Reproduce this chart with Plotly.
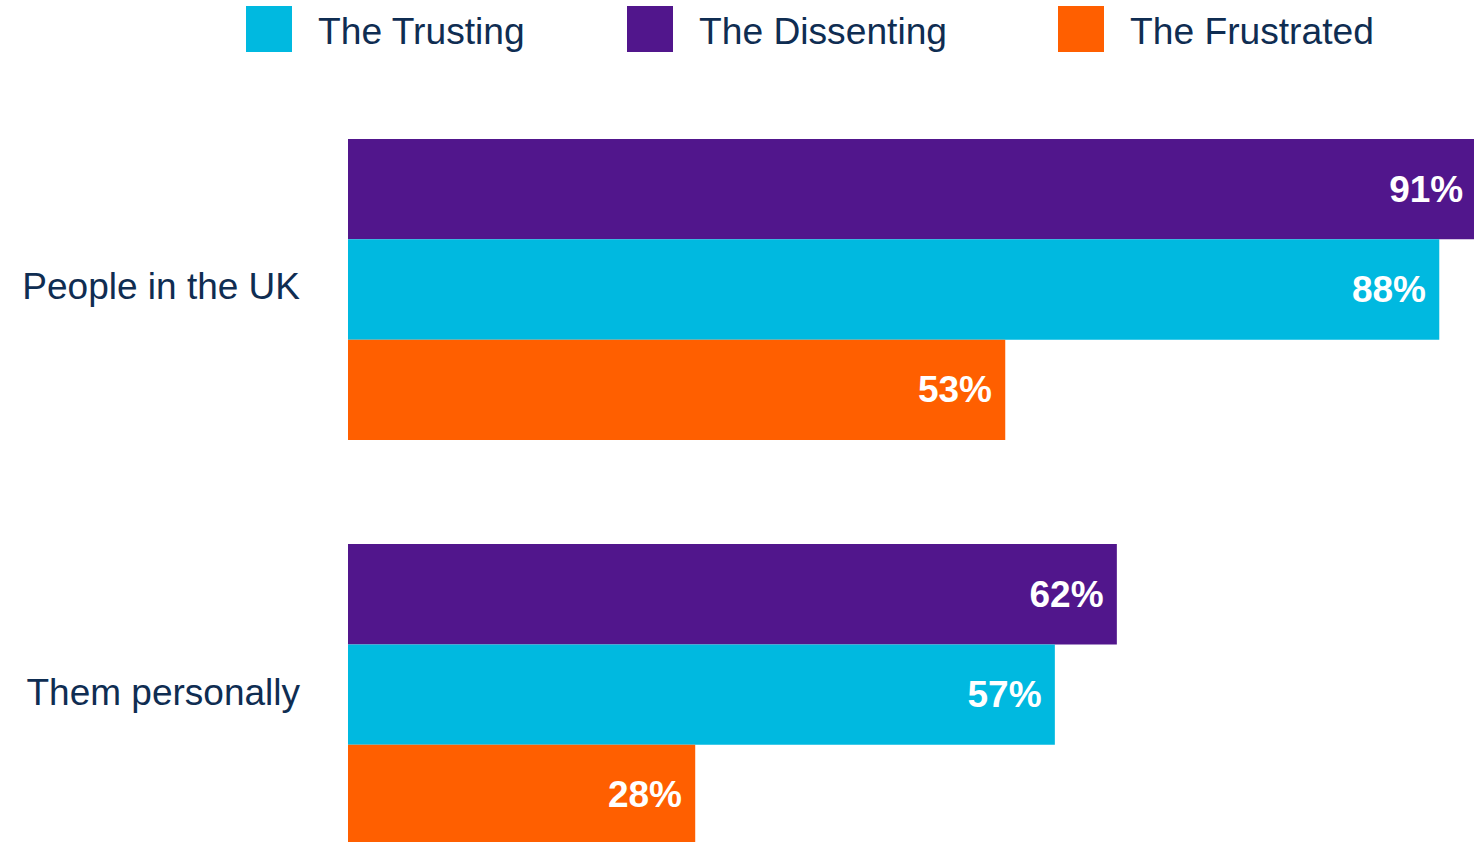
import plotly.graph_objects as go

# Survey results: share answering, by segment
categories = ["People in the UK", "Them personally"]
series_names = ["The Dissenting", "The Trusting", "The Frustrated"]
dissenting = [91, 62]
trusting = [88, 57]
frustrated = [53, 28]

colors = {
    "The Trusting": "#00B9E0",
    "The Dissenting": "#51168C",
    "The Frustrated": "#FF5F00",
}
legend_order = ["The Trusting", "The Dissenting", "The Frustrated"]
values = {"The Dissenting": dissenting, "The Trusting": trusting, "The Frustrated": frustrated}

W, H = 1474, 842
L, R, T, B = 348, 0, 87, 0
FONT = "Liberation Sans, Arial, sans-serif"
NAVY = "#0F2D52"

fig = go.Figure()
for name in series_names:
    fig.add_trace(go.Bar(
        y=categories,
        x=values[name],
        name=name,
        orientation="h",
        marker=dict(color=colors[name], line=dict(width=0)),
        texttemplate="%{x}%\u00a0",
        textposition="inside",
        insidetextanchor="end",
        textfont=dict(family=FONT, size=37, color="white", weight="bold"),
        constraintext="none",
        showlegend=False,
    ))

# Legend built from squares and labels above the plot
pw, ph = W - L - R, H - T - B
def px_x(x):
    return (x - L) / pw
def px_y(y):
    return (H - B - y) / ph

legend_x = {"The Trusting": 246, "The Dissenting": 627, "The Frustrated": 1058}
shapes, annotations = [], []
for name in legend_order:
    x0 = legend_x[name]
    shapes.append(dict(type="rect", xref="paper", yref="paper",
                       x0=px_x(x0), x1=px_x(x0 + 46), y0=px_y(52), y1=px_y(6),
                       fillcolor=colors[name], line=dict(width=0)))
    annotations.append(dict(text=name, xref="paper", yref="paper",
                            x=px_x(x0 + 70), y=px_y(31), xanchor="left", yanchor="middle",
                            showarrow=False, font=dict(family=FONT, size=37.2, color=NAVY)))

fig.update_layout(
    width=W, height=H,
    margin=dict(l=L, r=R, t=T, b=B, pad=0),
    paper_bgcolor="white", plot_bgcolor="white",
    barmode="group", bargap=0.257, bargroupgap=0,
    showlegend=False,
    shapes=shapes, annotations=annotations,
    xaxis=dict(range=[0, 90.8], visible=False, fixedrange=True),
    yaxis=dict(range=[1.364, -0.5], showgrid=False, zeroline=False, showline=False,
               ticks="", ticklabelstandoff=47, ticklabelshift=3,
               tickfont=dict(family=FONT, size=37, color=NAVY)),
)

fig.write_html("out.html")
